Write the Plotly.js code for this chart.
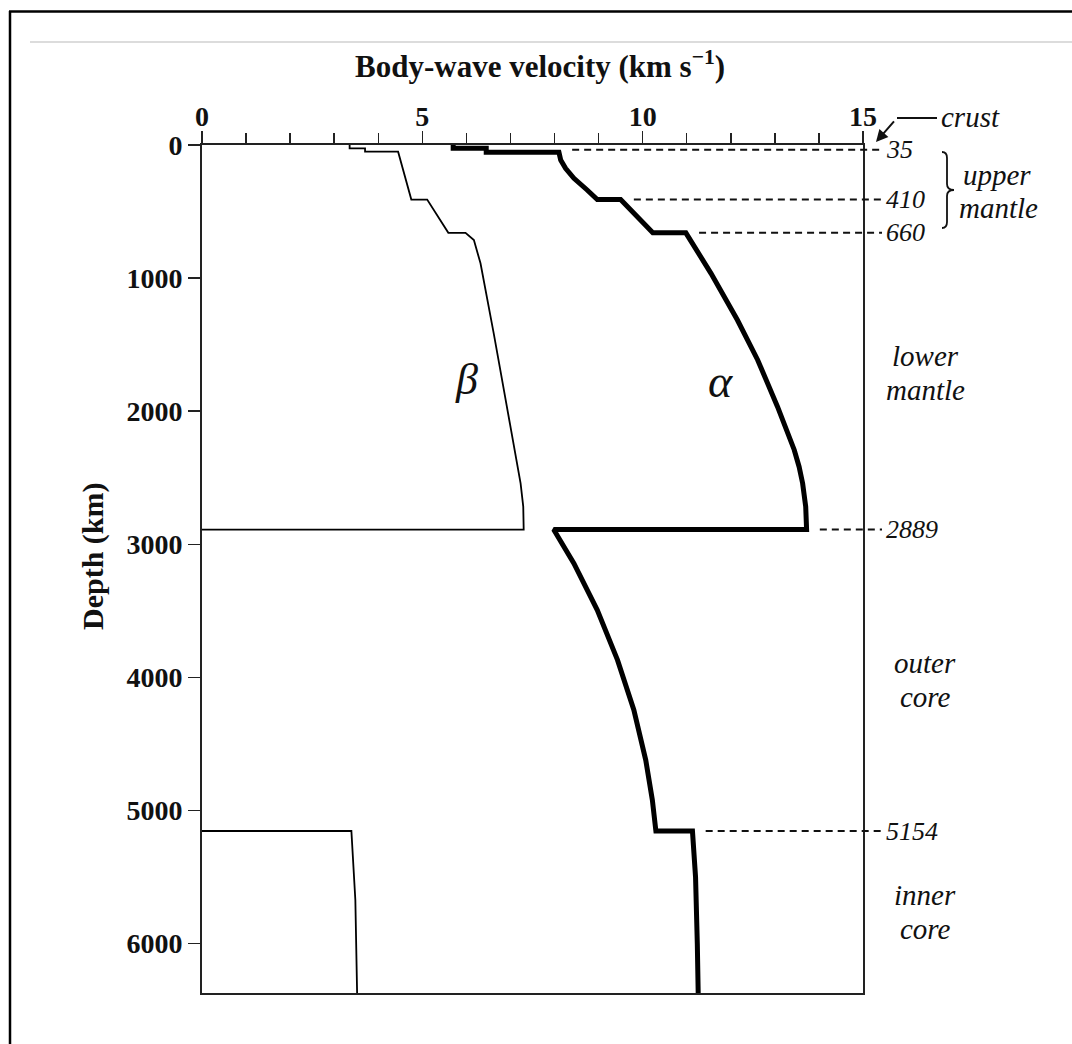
<!DOCTYPE html>
<html><head><meta charset="utf-8">
<script src="https://cdn.plot.ly/plotly-3.0.1.min.js"></script>
<style>html,body{margin:0;padding:0;background:#fff;overflow:hidden}#chart{width:1072px;height:1044px}</style>
</head><body><div id="chart"></div>
<script>
// ---- data ----
const alphaVelocity = [5.7, 5.7, 6.45, 6.45, 8.10, 8.14, 8.25, 8.44, 8.74, 8.97, 9.50, 10.23, 10.98,
  11.55, 12.15, 12.61, 13.06, 13.44, 13.55, 13.63, 13.70, 13.72, 7.98,
  8.44, 8.97, 9.43, 9.80, 10.07, 10.22, 10.30, 11.13, 11.20, 11.24, 11.26];
const alphaDepth = [0, 25, 25, 55, 55, 113, 175, 250, 338, 410, 410, 660, 660,
  964, 1315, 1615, 1966, 2291, 2417, 2542, 2717, 2889, 2889,
  3143, 3494, 3870, 4245, 4621, 4921, 5154, 5154, 5500, 6000, 6371];
const betaVelocity = [3.35, 3.35, 3.70, 3.70, 4.45, 4.75, 5.11, 5.59, 5.98,
  6.17, 6.32, 6.47, 6.62, 6.77, 6.93, 7.08, 7.23, 7.29, 7.30, 0, null,
  0, 3.39, 3.48, 3.52];
const betaDepth = [0, 25, 25, 50, 50, 410, 410, 660, 660,
  714, 889, 1140, 1415, 1691, 1991, 2267, 2542, 2717, 2889, 2889, null,
  5154, 5154, 5672, 6371];
const boundaryDepths = [35, 410, 660, 2889, 5154];
const boundaryLabels = ['35', '410', '660', '2889', '5154'];
const layerLines = [['lower', 'mantle'], ['outer', 'core'], ['inner', 'core']];
const layerLabelDepths = [1710, 4021, 5762];
const xTickValues = [0, 5, 10, 15];
const yTickValues = [0, 1000, 2000, 3000, 4000, 5000, 6000];
const earthRadius = 6371;
const velocityMax = 15;

// ---- layout helpers ----
const PL = 202, PR = 863, PT = 145, PB = 993, W = 1072, H = 1044;
const fx = px => (px - PL) / (PR - PL);
const fy = py => (PB - py) / (PB - PT);
const depthToPaper = d => 1 - d / earthRadius;
const FONT = 'Liberation Serif, "DejaVu Serif", serif';
const INK = '#111';
const LINE_GAP = 34 / (PB - PT);   // two-line label spacing in paper units

const shapes = [];
const annotations = [];
const label = (x, y, text, size, anchor, extra) => annotations.push(Object.assign({
  xref: 'paper', yref: 'paper', x: x, y: y, xanchor: anchor || 'center', yanchor: 'middle',
  text: text, showarrow: false, font: {family: FONT, size: size, color: INK}}, extra || {}));

// dashed boundary lines: start just right of the alpha curve at each boundary
boundaryDepths.forEach((d, i) => {
  let vmax = 0;
  alphaDepth.forEach((ad, j) => { if (ad !== null && Math.abs(ad - d) <= 30) vmax = Math.max(vmax, alphaVelocity[j]); });
  const x0 = (vmax + 0.3) / velocityMax;
  shapes.push({type: 'line', xref: 'paper', yref: 'paper', x0: x0, x1: fx(882),
    y0: depthToPaper(d), y1: depthToPaper(d), line: {color: INK, width: 2, dash: '7px,5px'}});
  label(fx(884), depthToPaper(d), '<i>' + boundaryLabels[i] + '</i>', 26, 'left');
});

// layer labels (two lines each)
layerLines.forEach((lines, i) => {
  const yc = depthToPaper(layerLabelDepths[i]);
  label(fx(925), yc + LINE_GAP / 2, '<i>' + lines[0] + '</i>', 29);
  label(fx(925), yc - LINE_GAP / 2, '<i>' + lines[1] + '</i>', 29);
});
label(fx(997), fy(175), '<i>upper</i>', 29);
label(fx(998), fy(208), '<i>mantle</i>', 29);
label(fx(939), fy(117), '<i>crust</i>', 29, 'left');
// crust arrow
shapes.push({type: 'line', xref: 'paper', yref: 'paper', x0: fx(897), x1: fx(937), y0: fy(118), y1: fy(118),
  line: {color: INK, width: 2}});
annotations.push({xref: 'paper', yref: 'paper', x: fx(876), y: fy(142), ax: 21, ay: -24, text: ' ',
  showarrow: true, arrowhead: 2, arrowsize: 1.2, arrowwidth: 2, arrowcolor: INK});
// brace for upper mantle
(function () {
  const p = (x, y) => fx(x).toFixed(5) + ',' + fy(y).toFixed(5);
  const path = 'M' + p(942, 152) + ' Q' + p(947, 152) + ' ' + p(947, 158) + ' L' + p(947, 184) +
    ' Q' + p(947, 190) + ' ' + p(954, 190) + ' Q' + p(947, 190) + ' ' + p(947, 196) +
    ' L' + p(947, 222) + ' Q' + p(947, 228) + ' ' + p(942, 228);
  shapes.push({type: 'path', xref: 'paper', yref: 'paper', path: path, line: {color: INK, width: 1.8}});
})();

// Greek labels
label(fx(466), fy(379), '<i>β</i>', 44);
label(fx(720), fy(381), '<i>α</i>', 46);

// axis titles
label(fx(540), fy(64), '<b>Body-wave velocity (km s<sup>−1</sup>)</b>', 31);
label(fx(93), fy(556), '<b>Depth (km)</b>', 30, 'center', {textangle: -90});

// page frame and top rule
shapes.push({type: 'line', xref: 'paper', yref: 'paper', x0: fx(10), x1: fx(10), y0: fy(11), y1: fy(H + 5), line: {color: '#000', width: 2.5}});
shapes.push({type: 'line', xref: 'paper', yref: 'paper', x0: fx(9), x1: fx(W + 5), y0: fy(11.5), y1: fy(11.5), line: {color: '#000', width: 2.5}});
shapes.push({type: 'line', xref: 'paper', yref: 'paper', x0: fx(30), x1: fx(W + 5), y0: fy(42), y1: fy(42), line: {color: '#dcdcdc', width: 2}});

const traces = [
  {x: alphaVelocity, y: alphaDepth, type: 'scatter', mode: 'lines', line: {color: '#000', width: 5}, hoverinfo: 'skip'},
  {x: betaVelocity, y: betaDepth, type: 'scatter', mode: 'lines', connectgaps: false, line: {color: '#000', width: 1.8}, hoverinfo: 'skip'}
];

const tickFont = {family: FONT, size: 28, color: INK, weight: 'bold'};
const layout = {
  width: W, height: H, showlegend: false,
  paper_bgcolor: '#fff', plot_bgcolor: '#fff',
  margin: {l: PL, r: W - PR, t: PT, b: H - PB, pad: 0},
  font: {family: FONT, color: INK},
  xaxis: {side: 'top', range: [0, velocityMax], tickvals: xTickValues, ticktext: xTickValues.map(String),
    ticks: 'outside', ticklen: 12, tickwidth: 1.5, tickcolor: '#222', ticklabelstandoff: -6,
    minor: {dtick: 1, ticks: 'outside', ticklen: 10, tickwidth: 1.5, tickcolor: '#222', showgrid: false},
    showline: true, linewidth: 2, linecolor: '#222', mirror: true, showgrid: false, zeroline: false,
    tickfont: tickFont, fixedrange: true},
  yaxis: {range: [earthRadius, 0], tickvals: yTickValues, ticktext: yTickValues.map(String),
    ticks: 'outside', ticklen: 12, tickwidth: 1.5, tickcolor: '#222',
    showline: true, linewidth: 2, linecolor: '#222', mirror: true, showgrid: false, zeroline: false,
    tickfont: tickFont, fixedrange: true},
  shapes: shapes, annotations: annotations
};

Plotly.newPlot('chart', traces, layout, {displayModeBar: false, staticPlot: true});
</script></body></html>
